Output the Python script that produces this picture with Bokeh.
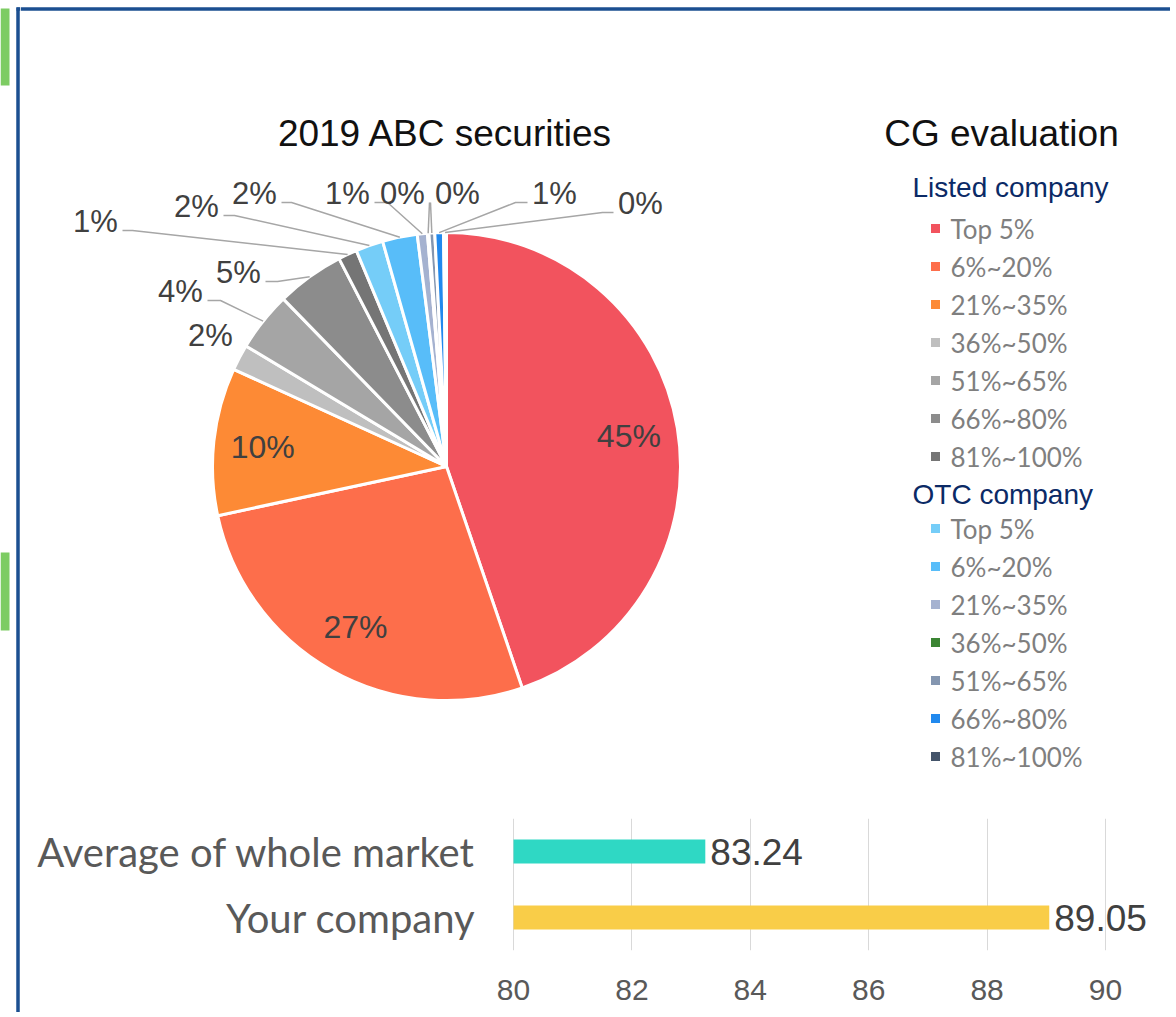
import math
from bokeh.plotting import figure
from bokeh.layouts import row, column
from bokeh.models import Range1d, FactorRange, FixedTicker, ColumnDataSource
from bokeh.core.properties import value
from bokeh.embed import file_html
from bokeh.resources import INLINE

# ---------------- data ----------------
pie_title = "2019 ABC securities"
legend_title = "CG evaluation"
group_names = ["Listed company", "OTC company"]
segments = ["Top 5%", "6%~20%", "21%~35%", "36%~50%", "51%~65%", "66%~80%", "81%~100%"]
listed_share = [44.8, 26.9, 10.2, 1.8, 4.1, 4.7, 1.3]
otc_share = [1.9, 2.4, 0.7, 0.1, 0.4, 0.6, 0.2]
listed_colors = ["#f2535e", "#fd6e4b", "#fd8a35", "#bfbfbf", "#a5a5a5", "#8c8c8c", "#757575"]
otc_colors = ["#75cdf8", "#58bdf9", "#a5b2d0", "#3b8533", "#8496b0", "#2189ee", "#44546a"]

bar_categories = ["Average of whole market", "Your company"]
bar_scores = [83.24, 89.05]
bar_colors = ["#2fd8c4", "#f9cd48"]
score_ticks = [80, 82, 84, 86, 88, 90]

# ---------------- layout ----------------
PAGE_X0, PAGE_Y0 = 20, 0          # page position of the top figure
FIG_W, TOP_H, BOT_H, BORDER_W = 1150, 800, 212, 20
TOTAL_H = TOP_H + BOT_H
BORDER_COLOR = "#1b4f91"
ACCENT_GREEN = "#7dcc63"
LABEL_COLOR = "#404040"


def X(rx):
    return rx - PAGE_X0


def Y(ry):
    return (PAGE_Y0 + TOP_H) - ry


# pie geometry (reference pixel positions)
PIE_CX, PIE_CY, PIE_R = 446, 466, 234
INNER_FRAC = 0.79
# outside label anchors (index in combined series -> (x, y, stub length))
outer_labels = {
    3: (210, 335, None),
    4: (180, 291, 13),
    5: (238, 272, 12),
    6: (95, 221, 10),
    7: (196, 206, 11),
    8: (254, 193, 10),
    9: (347, 193, 13),
    10: (402, 193, 0),
    11: (457, 193, 0),
    12: (554, 193, 12),
    13: (640, 203, 11),
}

# ---------------- border strip ----------------
bfig = figure(width=BORDER_W, height=TOTAL_H, x_range=Range1d(0, BORDER_W),
              y_range=Range1d(0, TOTAL_H), toolbar_location=None,
              output_backend="svg", min_border=0, x_axis_location=None,
              y_axis_location=None, outline_line_color=None)
bfig.grid.visible = False
bfig.quad(left=[0, 0], right=[9, 9], top=[TOTAL_H - 8, TOTAL_H - 552],
          bottom=[TOTAL_H - 85, TOTAL_H - 630], fill_color=ACCENT_GREEN, line_color=None)
bfig.segment(x0=[17.5], y0=[0], x1=[17.5], y1=[TOTAL_H - 7], line_color=BORDER_COLOR, line_width=3.5)
bfig.segment(x0=[16], y0=[TOTAL_H - 8.5], x1=[BORDER_W], y1=[TOTAL_H - 8.5],
             line_color=BORDER_COLOR, line_width=3.5)

# ---------------- top figure (pie + legend) ----------------
p = figure(width=FIG_W, height=TOP_H, x_range=Range1d(0, FIG_W), y_range=Range1d(0, TOP_H),
           toolbar_location=None, output_backend="svg", min_border=0,
           x_axis_location=None, y_axis_location=None, outline_line_color=None)
p.grid.visible = False

p.segment(x0=[0], y0=[Y(8.5)], x1=[FIG_W], y1=[Y(8.5)], line_color=BORDER_COLOR, line_width=3.5)

values = listed_share + otc_share
colors = listed_colors + otc_colors
total = sum(values)
starts, ends, mids = [], [], []
cum = 0.0
for v in values:
    a0 = math.pi / 2 - 2 * math.pi * cum / total
    cum += v
    a1 = math.pi / 2 - 2 * math.pi * cum / total
    starts.append(a0)
    ends.append(a1)
    mids.append((a0 + a1) / 2)
labels = [f"{round(v / total * 100)}%" for v in values]

cx, cy = X(PIE_CX), Y(PIE_CY)
src = ColumnDataSource(dict(start=starts, end=ends, color=colors))
p.wedge(x=cx, y=cy, radius=PIE_R, start_angle="start", end_angle="end", direction="clock",
        fill_color="color", line_color="white", line_width=3, source=src)

# inside labels
ix, iy, it = [], [], []
for i in range(3):
    ix.append(cx + INNER_FRAC * PIE_R * math.cos(mids[i]))
    iy.append(cy + INNER_FRAC * PIE_R * math.sin(mids[i]))
    it.append(labels[i])
p.text(x=ix, y=iy, text=it, text_align="center", text_baseline="middle",
       text_font=value("Liberation Sans"), text_font_size="32px", text_color=LABEL_COLOR)

# outside labels + leaders
ox, oy, ot = [], [], []
lx, ly = [], []
for i, (ax, ay, stub) in outer_labels.items():
    ox.append(X(ax))
    oy.append(Y(ay))
    ot.append(labels[i])
    if stub is None:
        continue
    ex = cx + PIE_R * math.cos(mids[i])
    ey = cy + PIE_R * math.sin(mids[i])
    left = X(ax) < ex
    sx = X(ax) + (27 if left else -27)
    sy = Y(ay + 9)
    mx = sx + (stub if left else -stub)
    lx.append([sx, mx, ex])
    ly.append([sy, sy, ey])
p.multi_line(xs=lx, ys=ly, line_color="#a6a6a6", line_width=1.5)
p.text(x=ox, y=oy, text=ot, text_align="center", text_baseline="middle",
       text_font=value("Liberation Sans"), text_font_size="31px", text_color=LABEL_COLOR)

# titles
p.text(x=[X(445)], y=[Y(133)], text=[pie_title], text_align="center", text_baseline="middle",
       text_font=value("Liberation Sans"), text_font_size="37px", text_color="#111111")
p.text(x=[X(1001)], y=[Y(133)], text=[legend_title], text_align="center", text_baseline="middle",
       text_font=value("Liberation Sans"), text_font_size="37px", text_color="#111111")

# legend
group_y = [187, 494]
row0 = [228, 528]
step = 38
for g, (name, cols) in enumerate(zip(group_names, [listed_colors, otc_colors])):
    p.text(x=[X(912)], y=[Y(group_y[g])], text=[name], text_align="left", text_baseline="middle",
           text_font=value("Liberation Sans"), text_font_size="28px", text_color="#0b2a66")
    ys = [Y(row0[g] + k * step) for k in range(len(segments))]
    p.scatter(x=[X(935)] * len(segments), y=ys, marker="square", size=9,
              fill_color=cols, line_color=None)
    p.text(x=[X(950)] * len(segments), y=ys, text=segments, text_align="left",
           text_baseline="middle", text_font=value("Lato"), text_font_size="26px",
           text_color="#7f7f7f")

# ---------------- bottom figure (bar chart) ----------------
PX_PER_UNIT = 59.2
x_start = score_ticks[0] - X(513) / PX_PER_UNIT
x_end = x_start + FIG_W / PX_PER_UNIT
FRAME_TOP, FRAME_H = 18, 132

b = figure(width=FIG_W, height=BOT_H, x_range=Range1d(x_start, x_end),
           y_range=FactorRange(factors=list(reversed(bar_categories)), range_padding=0),
           toolbar_location=None, output_backend="svg", y_axis_location=None,
           min_border_left=0, min_border_right=0, min_border_top=FRAME_TOP,
           min_border_bottom=BOT_H - FRAME_TOP - FRAME_H, outline_line_color=None)
bsrc = ColumnDataSource(dict(cat=bar_categories, score=bar_scores, color=bar_colors,
                             base=[score_ticks[0]] * len(bar_scores),
                             txt=[f"{v:.2f}" for v in bar_scores]))
b.hbar(y="cat", left="base", right="score", height=0.36, fill_color="color", line_color=None, source=bsrc)
b.text(x="score", y="cat", text="txt", x_offset=5, text_align="left", text_baseline="middle",
       text_font=value("Liberation Sans"), text_font_size="37px", text_color=LABEL_COLOR, source=bsrc)
b.text(x="base", y="cat", text="cat", x_offset=-38, text_align="right", text_baseline="middle",
       text_font=value("Lato"), text_font_size="40px", text_color="#595959", source=bsrc)

b.xaxis.ticker = FixedTicker(ticks=score_ticks)
b.xaxis.axis_line_color = None
b.xaxis.major_tick_line_color = None
b.xaxis.minor_tick_line_color = None
b.xaxis.major_tick_out = 0
b.xaxis.major_tick_in = 0
b.xaxis.major_label_standoff = 29
b.xaxis.major_label_text_font = "Liberation Sans"
b.xaxis.major_label_text_font_size = "30px"
b.xaxis.major_label_text_color = "#595959"

b.xgrid.grid_line_color = "#d9d9d9"
b.xgrid.grid_line_width = 1
b.ygrid.visible = False

layout = row(bfig, column(p, b, spacing=0), spacing=0)
open("out.html", "w").write(file_html(layout, INLINE))
